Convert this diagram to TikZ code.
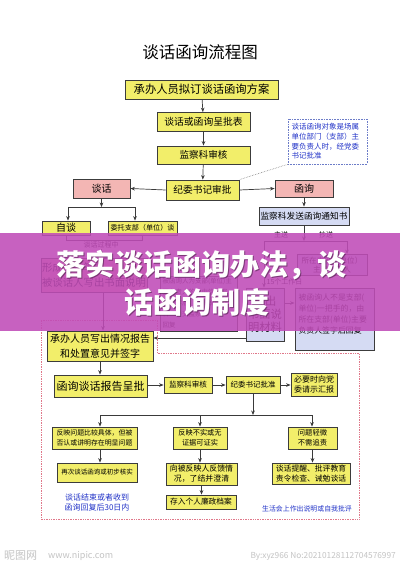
\documentclass[tikz,border=0pt]{standalone}
\usepackage{fontspec}
\setmainfont{Noto Sans CJK SC}
\usetikzlibrary{arrows.meta}
\definecolor{yfill}{HTML}{F2EE6A}
\definecolor{pfill}{HTML}{F3B6B4}
\definecolor{bfill}{HTML}{D5DBF3}
\definecolor{boxline}{HTML}{3C3C3C}
\definecolor{arrowc}{HTML}{3A3A3A}
\definecolor{bluetxt}{HTML}{2233C8}
\definecolor{framec}{HTML}{E0788A}
\definecolor{notec}{HTML}{6C7CC8}
\definecolor{bannerc}{HTML}{C04CB8}
\definecolor{wmc}{HTML}{C4C4C4}
\newcommand\fsz[2]{\fontsize{#1pt}{#2pt}\selectfont}
\begin{document}
\begin{tikzpicture}[x=1pt,y=-1pt,
  basebox/.style={draw=boxline, line width=0.8pt, inner sep=0pt, align=center},
  ybox/.style={basebox, fill=yfill},
  pbox/.style={basebox, fill=pfill},
  bbox/.style={basebox, fill=bfill},
  arr/.style={draw=arrowc, line width=0.7pt, -{Stealth[length=4.5pt,width=3.6pt]}},
  ln/.style={draw=arrowc, line width=0.7pt},
  lbl/.style={inner sep=0.5pt, font=\fsz{7}{8}},
  bluelbl/.style={inner sep=0pt, text=bluetxt, align=center}]
\useasboundingbox (0,0) rectangle (400,565);
\fill[white] (0,0) rectangle (400,565);

% title
\node[inner sep=0pt, font=\fsz{16.5}{18}] (title) at (200,52) {谈话函询流程图};

% top chain
\node[ybox, minimum width=153, minimum height=19, font=\fsz{11.3}{13}] (n1) at (201.5,89.5) {承办人员拟订谈话函询方案};
\node[ybox, minimum width=93, minimum height=19, font=\fsz{9.8}{11}] (n2) at (203.5,122) {谈话或函询呈批表};
\node[ybox, minimum width=93, minimum height=18, font=\fsz{9.6}{11}] (n3) at (203.5,155) {监察科审核};
\node[ybox, minimum width=73, minimum height=20, font=\fsz{9.7}{11}] (n4) at (202.5,190) {纪委书记审批};
\node[draw=notec, densely dotted, line width=0.6pt, fill=white, minimum width=79, minimum height=45,
      inner sep=0pt, text width=72, align=left, text=bluetxt, font=\fsz{7.5}{9.7}] (note) at (327.5,141.5)
  {谈话函询对象是场属\\单位部门（支部）主\\要负责人时，经党委\\书记批准};
\draw[gray, densely dotted, line width=0.6pt] (note.south west) -- (n4.north east);

\draw[arr] (n1) -- (n2);
\draw[arr] (n2) -- (n3);
\draw[arr] (n3) -- (n4);

% two branches
\node[pbox, minimum width=57, minimum height=19, font=\fsz{10}{11}] (talk) at (101.5,188.5) {谈话};
\node[pbox, minimum width=58, minimum height=17, font=\fsz{10}{11}] (letter) at (304,188.5) {函询};
\draw[arr] (n4.west) -- (talk.east);
\draw[arr] (n4.east) -- (letter.west);

% talk branch
\node[ybox, minimum width=48, minimum height=14, font=\fsz{10}{11}] (zitan) at (66,228) {自谈};
\node[ybox, minimum width=69, minimum height=14, font=\fsz{7.1}{8}] (weituo) at (142.5,228) {委托支部（单位）谈};
\coordinate (tl) at (68,207);
\coordinate (tr) at (135,207);
\draw[arr] (talk.south) -- (talk.south |- tl);
\draw[ln] (tl) -- (tr);
\draw[arr] (tl) -- (tl |- zitan.north);
\draw[arr] (tr) -- (tr |- weituo.north);

\node[pbox, minimum width=106, minimum height=34, align=left, font=\fsz{10.4}{15}] (record) at (94,275)
  {形成谈话笔录，\\被谈话人写出书面说明};
\coordinate (pl) at (101,240);
\draw[ln] (zitan.south) -- (zitan.south |- pl) -- (weituo.south |- pl) -- (weituo.south);
\draw[arr] (pl) -- (pl |- record.north);
\node[lbl, fill=white] (during) at (101,245) {谈话过程中};

\node[ybox, minimum width=106, minimum height=30, font=\fsz{10}{15}] (report) at (100,346)
  {承办人员写出情况报告\\和处置意见并签字};
\coordinate (rx) at (103,0);
\draw[arr] (record.south -| rx) -- (report.north -| rx);

% letter branch
\node[bbox, minimum width=90, minimum height=18, font=\fsz{8.7}{10}] (notice) at (304,216) {监察科发送函询通知书};
\draw[arr] (letter.south) -- (notice.north);
\coordinate (fl) at (264,241);
\coordinate (fr) at (347,241);
\draw[arr] (notice.south) -- (notice.south |- fl);
\draw[ln] (fl) -- (fr);
\node[lbl] (zhusong) at (281,235) {主送};
\node[lbl] (chaosong) at (326,235) {抄送};

\node[bbox, minimum width=38, minimum height=53, font=\fsz{11.3}{12.8}] (sm) at (265,314.5) {写出\\书面说\\明材料};
\node[bbox, minimum width=70, minimum height=21, font=\fsz{7.6}{9.5}] (zs) at (332,265) {所在支部（单位）\\主要负责人};
\draw[arr] (fl) -- (fl |- sm.north);
\draw[arr] (fr) -- (fr |- zs.north);
\node[lbl, anchor=west] (days) at (266,281.5) {15个工作日};

\node[bbox, minimum width=77, minimum height=55, text width=72, align=left, font=\fsz{6.5}{11}] (lb) at (198.5,303.5)
  {被函询人为支部(单位)主\\要负责人的，由党委书\\记签字后，连同说明材\\料一并交监察科\\回复};
\node[bbox, minimum width=79, minimum height=62, text width=72, align=left, font=\fsz{7.9}{11}] (rb) at (334.5,319)
  {被函询人不是支部(\\单位)一把手的，由\\所在支部(单位)主要\\负责人签字后回复\\~};
\coordinate (y303) at (0,303);
\coordinate (y338) at (0,338);
\draw[arr] (sm.east |- y303) -- (rb.west |- y303);
\draw[arr] (sm.west |- y338) -- (report.east |- y338);

% dotted frame
\draw[framec, densely dotted, line width=0.7pt] (41,320) -- (157,320) -- (157,353) -- (359,353) -- (359,519) -- (41,519) -- cycle;

% lower chain
\node[ybox, minimum width=93, minimum height=22, font=\fsz{11}{12}] (rpt) at (100.5,386) {函询谈话报告呈批};
\node[ybox, minimum width=48, minimum height=16, font=\fsz{7.6}{9}] (chk) at (188,385) {监察科审核};
\node[ybox, minimum width=54, minimum height=17, font=\fsz{7.5}{9}] (appr) at (253,385) {纪委书记批准};
\node[ybox, minimum width=46, minimum height=23, font=\fsz{8}{10.5}] (party) at (314,384.5) {必要时向党\\委请示汇报};
\draw[arr] (report.south) -- (report.south |- rpt.north);
\draw[arr] (rpt.east |- chk.west) -- (chk.west);
\draw[arr] (chk.east) -- (appr.west);
\draw[arr] (appr.east) -- (party.west |- appr.east);

\coordinate (hl) at (100,415);
\coordinate (hr) at (312,415);
\draw[arr] (appr.south) -- (appr.south |- hl);
\draw[ln] (hl) -- (hr);

\node[ybox, minimum width=85, minimum height=22, font=\fsz{6.9}{9.5}] (a) at (94.5,438) {反映问题比较具体，但被\\否认或讲明存在明显问题};
\node[ybox, minimum width=54, minimum height=22, font=\fsz{7.2}{10}] (b) at (200,438) {反映不实或无\\证据可证实};
\node[ybox, minimum width=49, minimum height=22, font=\fsz{7.3}{10}] (c) at (312.5,438) {问题轻微\\不需追责};
\draw[arr] (hl) -- (hl |- a.north);
\draw[arr] (b.north |- hl) -- (b.north);
\draw[arr] (hr) -- (hr |- c.north);

\node[ybox, minimum width=80, minimum height=19, font=\fsz{6.5}{8}] (a2) at (97,472.5) {再次谈话函询或初步核实};
\node[ybox, minimum width=71, minimum height=22, font=\fsz{7.9}{10}] (b2) at (201.5,474) {向被反映人反馈情\\况，了结并澄清};
\node[ybox, minimum width=70, minimum height=14, font=\fsz{7.7}{9}] (b3) at (201,502) {存入个人廉政档案};
\node[ybox, minimum width=78, minimum height=21, font=\fsz{7.8}{10}] (c2) at (311,473.5) {谈话提醒、批评教育\\责令检查、诫勉谈话};
\draw[arr] (a.south -| hl) -- (a2.north -| hl);
\draw[arr] (b.south) -- (b.south |- b2.north);
\draw[arr] (b2.south) -- (b2.south |- b3.north);
\draw[arr] (c.south) -- (c.south |- c2.north);

\node[bluelbl, font=\fsz{8}{10}] (t30) at (97,502) {谈话结束或者收到\\函询回复后30日内};
\node[bluelbl, font=\fsz{6.9}{8}] (life) at (307,509) {生活会上作出说明或自我批评};

% watermark
\node[inner sep=0pt, anchor=west, text=wmc, font=\fsz{11}{12}] (wm1) at (4,556) {昵图网};
\node[inner sep=0pt, anchor=west, text=wmc, font=\fsz{9}{10}] (wm2) at (48,556) {www.nipic.com};
\node[inner sep=0pt, anchor=east, text=wmc, font=\fsz{8.3}{10}] (wm3) at (396,556) {By:xyz966 No:20210128112704576997};

% banner
\fill[bannerc, opacity=0.88] (0,233) rectangle (400,331);
\node[inner sep=0pt, text=black!60!bannerc, opacity=0.6, font=\bfseries\fsz{29}{30}] at (202.5,266) {落实谈话函询办法，谈};
\node[inner sep=0pt, text=black!60!bannerc, opacity=0.6, font=\bfseries\fsz{29}{30}] at (197.5,303) {话函询制度};
\node[inner sep=0pt, text=white, font=\bfseries\fsz{29}{30}] (ban1) at (201.5,265) {落实谈话函询办法，谈};
\node[inner sep=0pt, text=white, font=\bfseries\fsz{29}{30}] (ban2) at (196.5,302) {话函询制度};
\end{tikzpicture}
\end{document}
